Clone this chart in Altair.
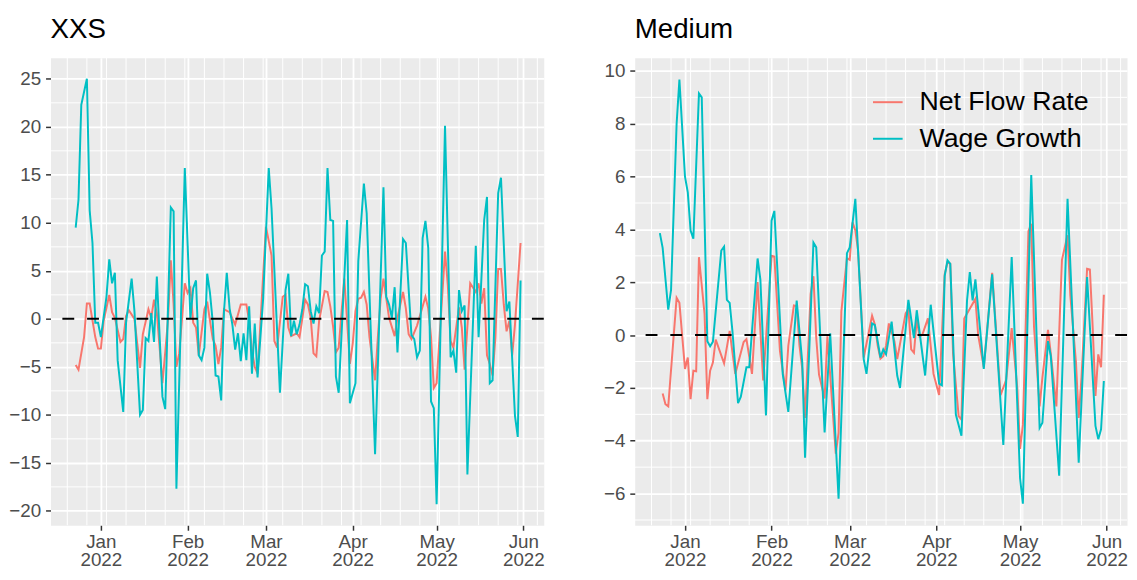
import altair as alt
import pandas as pd
from datetime import datetime, timezone, timedelta

# ---- data (day offsets from 2022-01-01) ----
xxs_nfr_day = [-9, -8, -6, -5, -4, -2, -1, 0, 1, 3, 4, 5, 7, 8, 9, 10, 12, 14, 15, 17, 18, 19, 20, 21, 22, 23,
               24, 25, 26, 27, 28, 30, 31, 32, 33, 34, 35, 37, 38, 39, 40, 41, 42, 43, 44, 46, 48, 50, 52, 53,
               54, 55, 56, 59, 61, 62, 63, 65, 66, 67, 68, 70, 71, 73, 74, 75, 76, 77, 78, 80, 81, 82, 83, 84,
               85, 87, 88, 89, 90, 91, 92, 93, 94, 95, 96, 98, 99, 100, 101, 103, 105, 106, 108, 109, 110, 111,
               113, 116, 117, 118, 119, 120, 123, 124, 125, 126, 128, 129, 130, 132, 134, 135, 136, 137, 138,
               139, 140, 141, 142, 143, 144, 145, 146, 147, 148, 150]
xxs_nfr_val = [-4.8, -5.3, -1.9, 1.6, 1.6, -1.9, -3.1, -3.1, -0.2, 2.5, 0.7, 0.1, -2.4, -2.1, 0.3, 0.9, 0.0, -5.1,
               -1.6, 1.0, 0.1, 2.0, 0.6, -3.0, -6.7, -3.5, 0.0, 6.1, 1.5, -5.0, -3.6, 3.7, 2.7, 3.2, -0.4, -0.9,
               -3.8, 1.0, 1.8, -0.2, -2.1, -2.8, -4.7, -3.0, 1.0, 0.7, -0.6, 1.5, 1.5, -0.2, -3.3, -5.0, -5.7,
               9.6, 6.6, -2.3, -3.0, 2.3, 2.5, -0.9, -1.8, -1.5, -1.9, 2.0, 1.5, 0.1, -3.6, -3.9, -0.2, 2.9, 2.8,
               1.3, -0.8, -3.5, -3.0, 4.2, -0.2, -4.7, -2.6, 0.8, 2.1, 2.2, 2.8, 1.5, -1.9, -6.4, -1.9, 2.1, 4.2,
               0.1, -1.8, 0.1, 2.8, 1.1, -1.6, -2.1, -0.7, 2.3, 1.1, -1.9, -7.2, -6.7, 7.0, 3.5, -2.3, -3.0, 1.2,
               -0.9, -5.3, 3.7, 2.8, 3.7, 1.6, 3.2, -3.8, -4.7, -5.9, -1.9, 5.2, 5.2, 1.5, -1.3, -0.2, -3.8, -0.6,
               7.9]

xxs_wg_day = [-9, -8, -7, -5, -4, -3, -2, -1, 0, 2, 3, 4, 5, 6, 8, 9, 11, 12, 14, 15, 16, 17, 18, 19, 20, 22, 23,
              25, 26, 27, 30, 32, 33, 34, 35, 36, 37, 38, 39, 40, 41, 42, 43, 44, 45, 46, 47, 48, 49, 50, 51, 52,
              53, 54, 55, 56, 58, 60, 61, 64, 66, 67, 68, 69, 70, 71, 72, 73, 74, 75, 76, 77, 78, 79, 80, 81, 82,
              83, 84, 85, 88, 89, 91, 92, 94, 95, 98, 101, 102, 103, 104, 105, 106, 108, 109, 111, 112, 113, 114,
              115, 116, 117, 118, 119, 120, 123, 125, 126, 127, 128, 129, 130, 131, 134, 135, 137, 138, 139, 140,
              142, 143, 145, 146, 148, 149, 150]
xxs_wg_val = [9.5, 12.4, 22.3, 25.0, 11.3, 7.9, -0.4, -0.4, -1.9, 2.3, 6.2, 3.7, 4.8, -4.3, -9.7, -0.4, 4.2, 0.8,
              -10.0, -9.5, -2.0, -2.3, 0.6, -2.4, 4.4, -8.1, -9.4, 11.6, 11.2, -17.7, 15.7, 0.0, 3.2, 4.0, -3.8,
              -4.3, -3.0, 4.7, 2.7, -0.4, -5.9, -6.0, -8.5, 0.8, 4.8, 1.1, -0.6, -3.2, -1.5, -4.4, -1.5, -4.3, 1.3,
              -5.7, -0.5, -6.1, 2.1, 15.7, 11.5, -7.7, 3.0, 4.7, -1.8, -0.2, -1.6, -0.6, 1.0, 3.6, 3.4, 0.8, -0.5,
              1.3, 0.6, 6.6, 7.0, 15.7, 10.3, 10.2, -6.0, -7.7, 10.3, -8.8, -6.7, 6.0, 14.1, 11.0, -14.1, 13.7,
              2.3, 1.5, 0.1, 3.3, -3.5, 8.3, 7.9, -1.7, -2.1, -4.0, -3.3, 8.4, 10.2, 7.4, -8.6, -9.3, -19.3, 20.1,
              -4.0, -3.3, -5.6, 3.0, 0.8, 1.4, -16.2, 7.6, -1.9, 10.3, 12.7, -6.7, -6.4, 13.1, 14.7, 0.8, 1.8,
              -10.1, -12.3, 4.0]

med_nfr_day = [-8, -7, -6, -3, -2, 0, 1, 2, 3, 4, 5, 7, 8, 9, 10, 11, 14, 16, 18, 21, 22, 24, 26, 28, 31, 32, 33,
               34, 36, 37, 39, 40, 41, 42, 43, 45, 46, 47, 48, 50, 51, 54, 55, 56, 58, 59, 60, 61, 62, 64, 67, 68,
               69, 70, 71, 72, 73, 75, 76, 79, 80, 81, 82, 83, 84, 85, 87, 89, 91, 93, 94, 95, 96, 98, 99, 100,
               102, 104, 105, 107, 110, 113, 115, 117, 119, 120, 121, 123, 124, 125, 127, 128, 130, 131, 133, 135,
               137, 138, 140, 141, 142, 144, 145, 146, 147, 148, 149, 150]
med_nfr_val = [-2.21, -2.62, -2.7, 1.41, 1.22, -1.28, -0.85, -2.43, -1.35, -1.37, 2.95, 0.81, -2.43, -1.35, -1.04,
               -0.17, -1.07, 0.16, -1.47, -0.26, -0.15, -1.47, 2.01, -1.72, 3.0, 2.97, 1.2, -0.6, -2.09, -0.4,
               1.12, 1.1, -0.4, -1.28, -3.14, 1.56, 2.23, -0.1, -1.5, -2.4, -0.05, -4.49, -3.7, 0.9, 2.91, 2.85,
               4.27, 3.96, 3.2, -0.85, 0.73, 0.4, -0.4, -0.89, -0.8, -0.4, 0.44, -0.23, -0.91, 0.81, 1.0, -0.54,
               -0.67, 0.6, -0.05, 0.01, 0.63, -1.47, -2.27, 2.3, 2.75, 2.7, -0.7, -3.07, -3.2, 0.63, 1.0, 1.37,
               0.0, -1.22, 2.36, -2.27, -1.7, 0.26, -2.0, -4.31, -3.4, 3.93, 4.21, 0.3, -2.7, -1.6, 0.2, -0.7,
               -2.7, 2.85, 3.78, 1.49, -1.0, -3.14, -1.6, 2.51, 2.48, 0.3, -2.3, -0.73, -1.22, 1.53]

med_wg_day = [-9, -8, -6, -5, -3, -2, 0, 1, 2, 3, 5, 6, 8, 9, 10, 13, 14, 15, 16, 17, 19, 20, 22, 23, 26, 27, 29,
              31, 32, 35, 37, 40, 42, 43, 46, 47, 50, 52, 55, 58, 59, 61, 64, 65, 67, 68, 70, 71, 72, 74, 76, 77,
              80, 82, 83, 86, 88, 91, 92, 93, 94, 95, 97, 99, 101, 102, 103, 104, 107, 110, 114, 117, 120, 121,
              124, 127, 128, 130, 131, 134, 137, 141, 144, 147, 148, 149, 150]
med_wg_val = [3.86, 3.3, 0.96, 1.7, 8.0, 9.67, 6.0, 5.4, 3.96, 3.65, 9.15, 9.0, -0.23, -0.42, -0.25, 3.2, 3.35,
              1.33, 1.22, 0.14, -2.58, -2.33, -1.22, -1.22, 2.9, 2.1, -3.04, 4.33, 4.7, -1.47, -2.91, 1.31, -1.04,
              -4.64, 3.5, 3.32, -3.69, 0.07, -6.19, 3.1, 3.32, 5.16, -0.91, -1.47, 0.44, 0.38, -0.85, -0.54, -0.73,
              0.51, -1.53, -2.0, 1.33, -0.11, 0.94, -1.53, 1.15, -1.84, -1.9, 2.23, 2.83, 2.7, -3.01, -3.81, 1.31,
              2.38, 1.31, 2.11, -1.28, 2.3, -4.16, 2.95, -5.42, -6.38, 6.06, -3.51, -3.32, -0.23, -0.79, -5.32,
              5.16, -4.83, 2.2, -3.44, -3.94, -3.57, -1.74]

series_names = ["Net Flow Rate", "Wage Growth"]
series_colors = ["#F8766D", "#00BFC4"]

FONT = "Liberation Sans"
ORIGIN = pd.Timestamp("2022-01-01")


def to_dates(days):
    return [(ORIGIN + pd.Timedelta(days=d)).strftime("%Y-%m-%d") for d in days]


def series_df(nfr_day, nfr_val, wg_day, wg_val):
    a = pd.DataFrame({"date": to_dates(nfr_day), "value": nfr_val, "series": series_names[0]})
    b = pd.DataFrame({"date": to_dates(wg_day), "value": wg_val, "series": series_names[1]})
    return pd.concat([a, b], ignore_index=True)


def ms(dt):
    return int(dt.replace(tzinfo=timezone.utc).timestamp() * 1000)


x_start = datetime(2021, 12, 14)
x_end = x_start + timedelta(days=176.3)
x_domain = [ms(x_start), ms(x_end)]
month_ticks = [ms(datetime(2022, m, 1)) for m in range(1, 7)]
week_lines = pd.DataFrame({"date": pd.date_range("2021-12-20", "2022-06-06", freq="7D").strftime("%Y-%m-%d")})

x_axis = alt.Axis(values=month_ticks, title=None, grid=True, gridColor="white", gridWidth=1.8,
                  labelExpr="[utcFormat(datum.value, '%b'), utcFormat(datum.value, '%Y')]",
                  tickSize=5, tickColor="#333333", tickWidth=1.5, domain=False,
                  labelColor="#4D4D4D", labelFont=FONT, labelFontSize=19, labelPadding=2,
                  labelLineHeight=19, labelFlush=False, labelOverlap=False)


def panel(df, title, ydom, ymajor, yminor, width, legend):
    xs = alt.Scale(type="utc", domain=x_domain, nice=False)
    ys = alt.Scale(domain=ydom, nice=False, zero=False)
    y_axis = alt.Axis(values=ymajor, title=None, grid=True, gridColor="white", gridWidth=1.8,
                      tickSize=5, tickColor="#333333", tickWidth=1.5, domain=False,
                      labelColor="#4D4D4D", labelFont=FONT, labelFontSize=19, labelPadding=5,
                      labelFlush=False, labelOverlap=False)
    xenc = alt.X("date:T", scale=xs, axis=x_axis)
    yenc = alt.Y("value:Q", scale=ys, axis=y_axis)

    vminor = alt.Chart(week_lines).mark_rule(color="white", strokeWidth=1).encode(x=xenc)
    hminor = alt.Chart(pd.DataFrame({"value": yminor})).mark_rule(color="white", strokeWidth=1).encode(y=yenc)
    lines = alt.Chart(df).mark_line(strokeWidth=2, clip=True).encode(
        x=xenc, y=yenc,
        color=alt.Color("series:N", scale=alt.Scale(domain=series_names, range=series_colors), legend=legend),
    )
    zero = alt.Chart(pd.DataFrame({"value": [0]})).mark_rule(
        color="black", strokeWidth=2, strokeDash=[12, 13]).encode(y=yenc)
    return alt.layer(vminor, hminor, lines, zero).properties(
        width=width, height=473,
        title=alt.TitleParams(title, anchor="start", frame="group", font=FONT, fontSize=28,
                              fontWeight="normal", color="black", offset=-15, baseline="bottom"),
    )


left = panel(series_df(xxs_nfr_day, xxs_nfr_val, xxs_wg_day, xxs_wg_val), "XXS", [-21.5, 27.2],
             [-20, -15, -10, -5, 0, 5, 10, 15, 20, 25],
             [-17.5, -12.5, -7.5, -2.5, 2.5, 7.5, 12.5, 17.5, 22.5], 499, None)

legend = alt.Legend(orient="none", legendX=240, legendY=29, title=None, symbolType="stroke",
                    symbolSize=900, symbolStrokeWidth=2, labelFont=FONT, labelFontSize=27,
                    labelColor="black", labelOffset=16, rowPadding=8, padding=0, labelLimit=0)
right = panel(series_df(med_nfr_day, med_nfr_val, med_wg_day, med_wg_val), "Medium", [-7.2, 10.5],
              [-6, -4, -2, 0, 2, 4, 6, 8, 10], [-7, -5, -3, -1, 1, 3, 5, 7, 9], 498, legend)

chart = alt.hconcat(left, right, spacing=57).resolve_legend(color="independent").configure(
    padding={"left": 0, "top": 5, "right": 0, "bottom": 0}
).configure_view(fill="#EBEBEB", stroke="transparent")

chart.save("out.html", embed_options={"renderer": "svg", "actions": False})
